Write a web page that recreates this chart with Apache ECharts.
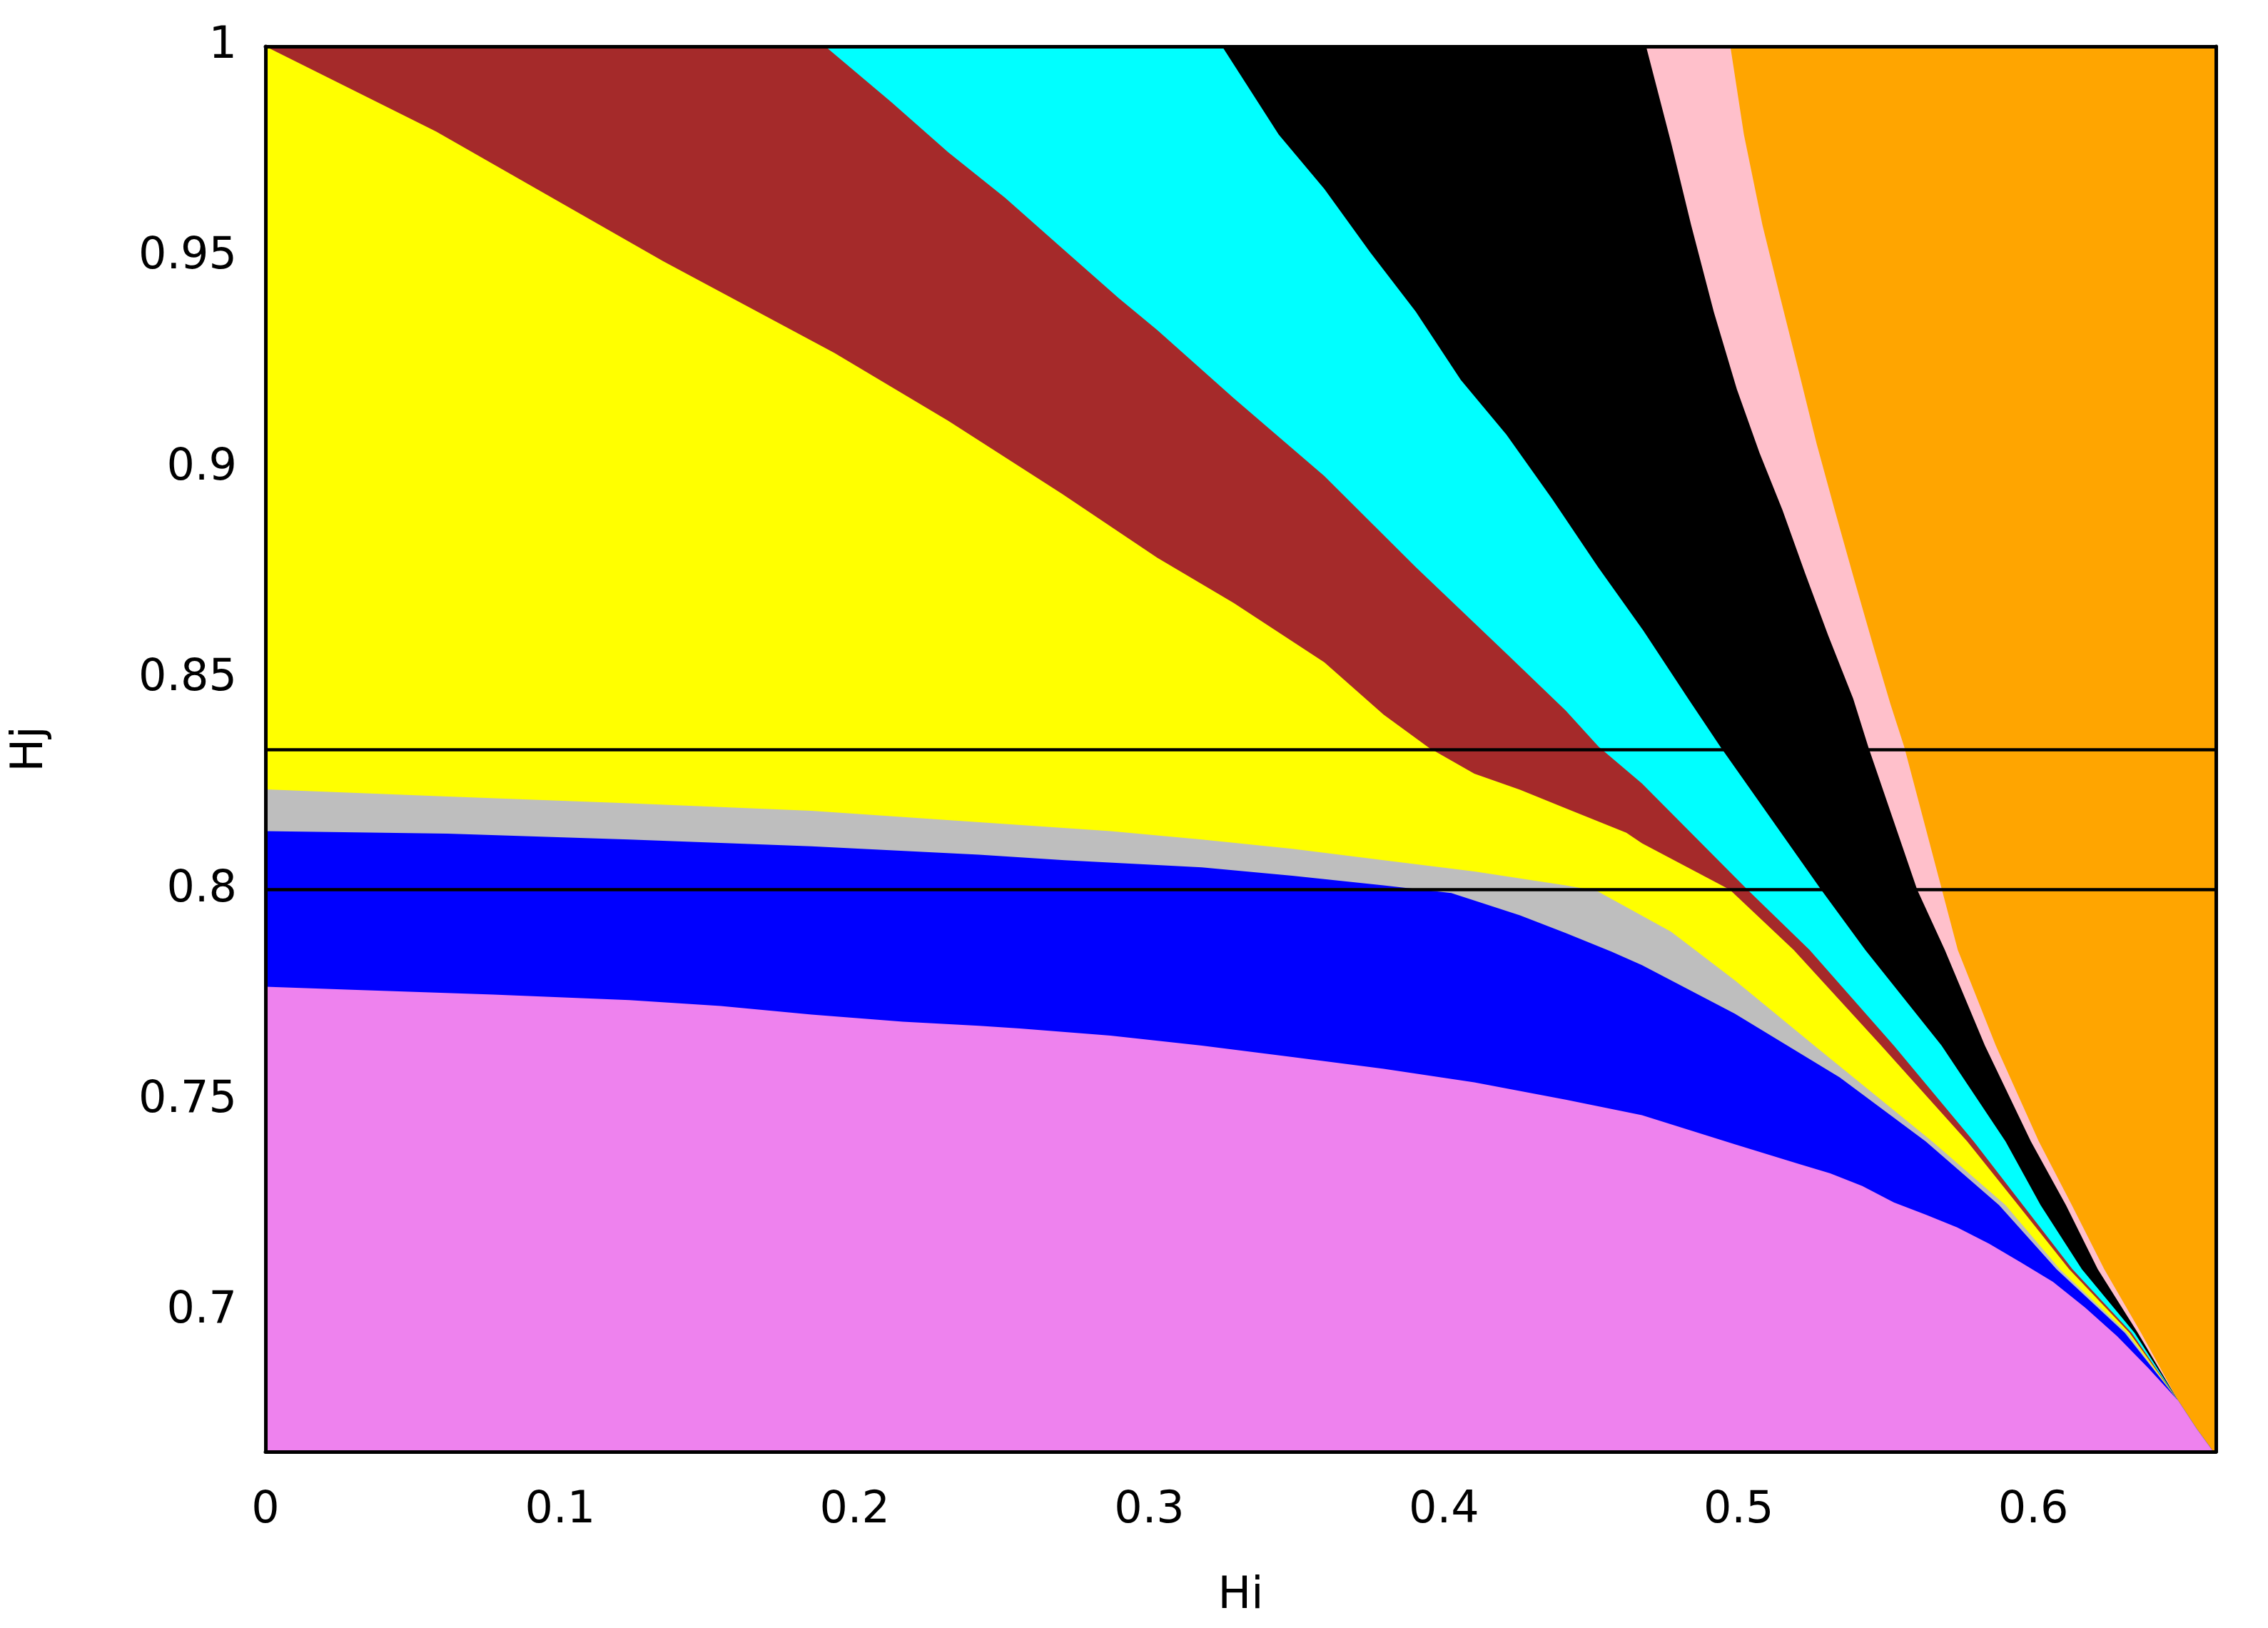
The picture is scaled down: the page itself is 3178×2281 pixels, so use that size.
<!DOCTYPE html>
<html>
<head>
<meta charset="utf-8">
<script src="https://cdn.jsdelivr.net/npm/echarts@6/dist/echarts.min.js"></script>
<style>
html,body{margin:0;padding:0;background:#fff;}
#chart{width:3178px;height:2281px;}
</style>
</head>
<body>
<div id="chart"></div>
<script>
// ---- axis ranges and tick labels ----
const hiRange = [0, 0.662];
const hjRange = [0.6667, 1];
const hiTicks = [0, 0.1, 0.2, 0.3, 0.4, 0.5, 0.6];
const hjTicks = [0.7, 0.75, 0.8, 0.85, 0.9, 0.95, 1];
const refLevels = [0.8333, 0.8];

// ---- region upper boundaries [Hi, Hj] (each region is filled below its boundary) ----
const orangeTop = [[0, 1], [0.662, 1]];
const pinkTop = [[0,1],[0.4972,1],[0.5018,0.9791],[0.5081,0.9576],[0.5142,0.9403],[0.5204,0.9230],[0.5265,0.9057],[0.5328,0.8896],[0.5389,0.8744],[0.5460,0.8571],[0.5515,0.8441],[0.5562,0.8339],[0.5690,0.8000],[0.5744,0.7857],[0.5873,0.7630],[0.6019,0.7403],[0.6131,0.7252],[0.6241,0.7100],[0.6366,0.6949],[0.6492,0.6788],[0.6554,0.6722],[0.6608,0.6670],[0.662,0.6667]];
const blackTop = [[0,1],[0.4686,1],[0.4771,0.9771],[0.4839,0.9576],[0.4916,0.9370],[0.4994,0.9187],[0.5071,0.9036],[0.5149,0.8900],[0.5226,0.8750],[0.5304,0.8603],[0.5389,0.8453],[0.5440,0.8339],[0.5606,0.8000],[0.5700,0.7857],[0.5836,0.7630],[0.5992,0.7403],[0.6111,0.7252],[0.6219,0.7100],[0.6355,0.6949],[0.6492,0.6788],[0.6554,0.6722],[0.6608,0.6670],[0.662,0.6667]];
const cyanTop = [[0,1],[0.3247,1],[0.3439,0.9791],[0.3594,0.9662],[0.3749,0.9512],[0.3904,0.9371],[0.4057,0.9209],[0.4212,0.9079],[0.4367,0.8927],[0.4522,0.8766],[0.4677,0.8614],[0.4829,0.8453],[0.4938,0.8339],[0.5280,0.8000],[0.5430,0.7857],[0.5689,0.7630],[0.5906,0.7403],[0.6025,0.7252],[0.6165,0.7100],[0.6344,0.6949],[0.6492,0.6788],[0.6554,0.6722],[0.6608,0.6670],[0.662,0.6667]];
const brownTop = [[0,1],[0.1900,1],[0.2124,0.9868],[0.2317,0.9749],[0.2510,0.9641],[0.2703,0.9522],[0.2896,0.9403],[0.3027,0.9327],[0.3286,0.9166],[0.3594,0.8981],[0.3904,0.8765],[0.4212,0.8560],[0.4413,0.8425],[0.4525,0.8339],[0.4672,0.8252],[0.5030,0.8000],[0.5241,0.7857],[0.5527,0.7630],[0.5798,0.7403],[0.5965,0.7252],[0.6133,0.7100],[0.6334,0.6949],[0.6492,0.6788],[0.6554,0.6722],[0.6608,0.6670],[0.662,0.6667]];
const yellowTop = [[0,1],[0.0579,0.9798],[0.1351,0.9490],[0.1931,0.9273],[0.2317,0.9112],[0.2703,0.8939],[0.3027,0.8787],[0.3286,0.8680],[0.3594,0.8539],[0.3795,0.8415],[0.3950,0.8336],[0.4103,0.8275],[0.4258,0.8237],[0.4413,0.8193],[0.4619,0.8135],[0.4672,0.8110],[0.4970,0.8000],[0.5187,0.7857],[0.5484,0.7630],[0.5776,0.7403],[0.5949,0.7252],[0.6122,0.7100],[0.6327,0.6949],[0.6492,0.6788],[0.6554,0.6722],[0.6608,0.6670],[0.662,0.6667]];
const grayTop = [[0,0.8238],[0.0618,0.8221],[0.1235,0.8205],[0.1853,0.8187],[0.2422,0.8160],[0.2868,0.8139],[0.3178,0.8119],[0.3485,0.8097],[0.3795,0.8070],[0.4103,0.8043],[0.4413,0.8010],[0.4519,0.7997],[0.4771,0.7900],[0.4987,0.7785],[0.5257,0.7630],[0.5657,0.7403],[0.5906,0.7252],[0.6090,0.7100],[0.6319,0.6949],[0.6492,0.6788],[0.6554,0.6722],[0.6608,0.6670],[0.662,0.6667]];
const blueTop = [[0,0.8139],[0.0618,0.8133],[0.1235,0.8119],[0.1853,0.8103],[0.2422,0.8083],[0.2713,0.8070],[0.3178,0.8053],[0.3485,0.8033],[0.3795,0.8010],[0.4025,0.7992],[0.4258,0.7939],[0.4413,0.7897],[0.4568,0.7853],[0.4672,0.7821],[0.4987,0.7706],[0.5343,0.7555],[0.5635,0.7403],[0.5884,0.7252],[0.6079,0.7100],[0.6311,0.6949],[0.6492,0.6788],[0.6554,0.6722],[0.6608,0.6670],[0.662,0.6667]];
const violetTop = [[0,0.7770],[0.0310,0.7762],[0.0773,0.7751],[0.1235,0.7738],[0.1545,0.7724],[0.1853,0.7704],[0.2163,0.7687],[0.2422,0.7677],[0.2560,0.7671],[0.2868,0.7654],[0.3178,0.7630],[0.3485,0.7603],[0.3795,0.7575],[0.4103,0.7543],[0.4413,0.7502],[0.4672,0.7465],[0.4987,0.7396],[0.5202,0.7350],[0.5311,0.7327],[0.5420,0.7297],[0.5527,0.7258],[0.5636,0.7229],[0.5742,0.7199],[0.5851,0.7160],[0.5960,0.7115],[0.6067,0.7070],[0.6176,0.7009],[0.6285,0.6941],[0.6391,0.6865],[0.6492,0.6788],[0.6554,0.6722],[0.6608,0.6670],[0.662,0.6667]];

const layerNames = ['orange','pink','black','cyan','brown','yellow','gray','blue','violet'];
const layerColors = ['#ffa500','#ffc0cb','#000000','#00ffff','#a52a2a','#ffff00','#bebebe','#0000ff','#ee82ee'];
const layerData = [orangeTop, pinkTop, blackTop, cyanTop, brownTop, yellowTop, grayTop, blueTop, violetTop];

const FONT = 'DejaVu Sans';
const chart = echarts.init(document.getElementById('chart'), null, {renderer: 'canvas'});

const series = layerData.map((d, i) => ({
  type: 'line',
  name: layerNames[i],
  data: d,
  showSymbol: false,
  symbol: 'none',
  silent: true,
  lineStyle: {width: 0},
  areaStyle: {color: layerColors[i], opacity: 1, origin: 'start'},
  z: 2
}));
series[series.length - 1].markLine = {
  silent: true,
  precision: 6,
  symbol: ['none', 'none'],
  label: {show: false},
  animation: false,
  lineStyle: {color: '#000', width: 4.5, type: 'solid'},
  data: refLevels.map(v => ({yAxis: v}))
};

const frameLine = {show: true, onZero: false, lineStyle: {color: '#000', width: 5}};
const labelStyle = {fontFamily: FONT, fontSize: 62, color: '#000'};

chart.setOption({
  animation: false,
  backgroundColor: '#ffffff',
  grid: {left: 372, right: 73, top: 65, bottom: 247},
  xAxis: [{
    type: 'value', min: hiRange[0], max: hiRange[1], z: 10,
    axisLine: frameLine, axisTick: {show: false}, splitLine: {show: false},
    axisLabel: Object.assign({margin: 52, customValues: hiTicks}, labelStyle),
    name: 'Hi', nameLocation: 'middle', nameGap: 172,
    nameTextStyle: labelStyle
  }, {
    type: 'value', position: 'top', min: hiRange[0], max: hiRange[1], z: 10,
    axisLine: frameLine, axisTick: {show: false}, splitLine: {show: false},
    axisLabel: {show: false}
  }],
  yAxis: [{
    type: 'value', min: hjRange[0], max: hjRange[1], z: 10,
    axisLine: frameLine, axisTick: {show: false}, splitLine: {show: false},
    axisLabel: Object.assign({margin: 40, customValues: hjTicks}, labelStyle),
    name: 'Hj', nameLocation: 'middle', nameGap: 298,
    nameTextStyle: labelStyle
  }, {
    type: 'value', position: 'right', min: hjRange[0], max: hjRange[1], z: 10,
    axisLine: frameLine, axisTick: {show: false}, splitLine: {show: false},
    axisLabel: {show: false}
  }],
  series: series
});
</script>
</body>
</html>
